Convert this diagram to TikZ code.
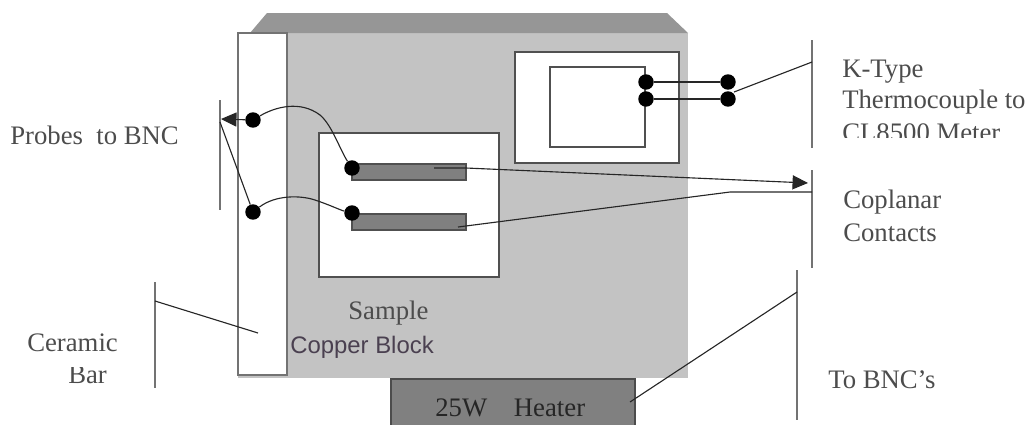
\documentclass[tikz,border=0pt]{standalone}
\usepackage{fontspec}
\setmainfont{Liberation Serif}
\newfontfamily\labelsans{Liberation Sans}
\usepackage{tikz}
\usetikzlibrary{arrows.meta}
\definecolor{blockgray}{HTML}{C3C3C3}
\definecolor{topgray}{HTML}{969696}
\definecolor{stripgray}{HTML}{808080}
\definecolor{linegray}{HTML}{505050}
\definecolor{purplegray}{HTML}{4A4050}
\tikzset{
	dotnode/.style={circle,fill=black,inner sep=0pt,minimum size=11pt},
	txtnode/.style={inner sep=0pt,anchor=west,font=\fontsize{19}{22}\selectfont,text=black!70},
	wire/.style={draw=black!85,line width=0.8pt},
	tipwire/.style={wire,-{Triangle[length=11pt,width=10pt]}},
	barline/.style={draw=black!55,line width=1.2pt}
}

\begin{document}
\begin{tikzpicture}[x=0.025cm,y=-0.025cm]
	\useasboundingbox (0,0) rectangle (1036,424);

	\fill[blockgray] (238,33) rectangle (688,378);
	\fill[topgray] (250,33) -- (267,13) -- (667,13) -- (688,33) -- cycle;

	\draw[barline,fill=white] (238,33) rectangle (287,375);
	\draw[barline,draw=linegray,fill=white] (319,133) rectangle (499,277);
	\draw[barline,draw=linegray,fill=white] (515,52) rectangle (679,163);
	\draw[barline,draw=linegray,fill=white] (550,67) rectangle (645,147);
	\draw[draw=linegray,line width=1pt,fill=stripgray] (352,164) rectangle (466,180);
	\draw[draw=linegray,line width=1pt,fill=stripgray] (352,214) rectangle (466,230);
	\draw[draw=black!70,line width=1pt,fill=stripgray] (391,379) rectangle (635,430);

	% vertical bars
	\draw[barline] (812,40) -- (812,148);
	\draw[barline] (812,170) -- (812,268);
	\draw[barline] (797,270) -- (797,420);
	\draw[barline] (155,282) -- (155,388);
	\draw[barline] (220,100) -- (220,210);

	\node[dotnode] (probeA) at (253,120) {};
	\node[dotnode] (probeB) at (253,212) {};
	\node[dotnode] (stripA) at (352,168) {};
	\node[dotnode] (stripB) at (352,213) {};
	\node[dotnode] (tcInA) at (646,82) {};
	\node[dotnode] (tcInB) at (646,99) {};
	\node[dotnode] (tcOutA) at (728,82) {};
	\node[dotnode] (tcOutB) at (728,99) {};

	\coordinate (probeTip) at (221,119);
	\coordinate (probeFoot) at (220,122);
	\coordinate (tcStart) at (734,92);
	\coordinate (tcEnd) at (812,62);
	\coordinate (stripEndA) at (434,168);
	\coordinate (stripEndB) at (458,227);
	\coordinate (coplanarTip) at (808,183);
	\coordinate (coplanarEnd) at (812,192);
	\coordinate (bend) at (730,192);
	\coordinate (barEnd) at (155,301);
	\coordinate (barIn) at (258,333);
	\coordinate (heaterEnd) at (797,292);
	\coordinate (heaterIn) at (630,402);

	\draw[tipwire] (probeA) -- (probeTip);
	\draw[wire] (probeFoot) -- (probeB);
	\draw[wire] (probeA) .. controls (275,107) and (300,100) .. (320,115) .. controls (332,125) and (340,150) .. (stripA);
	\draw[wire] (probeB) .. controls (275,195) and (300,195) .. (315,200) .. controls (330,205) and (340,210) .. (stripB);
	\draw[tipwire] (stripEndA) -- (466,168) -- (coplanarTip);
	\draw[wire] (stripEndB) -- (bend) -- (coplanarEnd);

	\draw[wire] (tcInA) -- (tcOutA);
	\draw[wire] (tcInB) -- (tcOutB);
	\draw[wire] (tcStart) -- (tcEnd);
	\draw[wire] (barEnd) -- (barIn);
	\draw[wire] (heaterEnd) -- (heaterIn);

	\node[txtnode] (probes) at (10,135) {Probes\ \ to\ BNC};
	\node[txtnode] (ktype) at (842,72) {K-Type};
	\node[txtnode] (thermo) at (842,102) {Thermocouple to};
	\begin{scope}
		\clip (830,118) rectangle (1036,137);
		\node[txtnode] (meter) at (842,133) {CL8500 Meter};
	\end{scope}
	\node[txtnode] (coplanar) at (843,202) {Coplanar};
	\node[txtnode] (contacts) at (843,233) {Contacts};
	\node[txtnode] (ceramic) at (27,343) {Ceramic};
	\begin{scope}
		\clip (50,367) rectangle (130,390);
		\node[txtnode] (bar) at (68,375) {Bar};
	\end{scope}
	\node[txtnode] (sample) at (348,313) {Sample};
	\node[txtnode,font=\labelsans\fontsize{17}{20}\selectfont,text=purplegray] (copper) at (290,347) {Copper Block};
	\node[txtnode,text=black!85] (heater) at (435,408) {25W\quad Heater};
	\node[txtnode] (tobnc) at (828,380) {To BNC's};
\end{tikzpicture}
\end{document}
